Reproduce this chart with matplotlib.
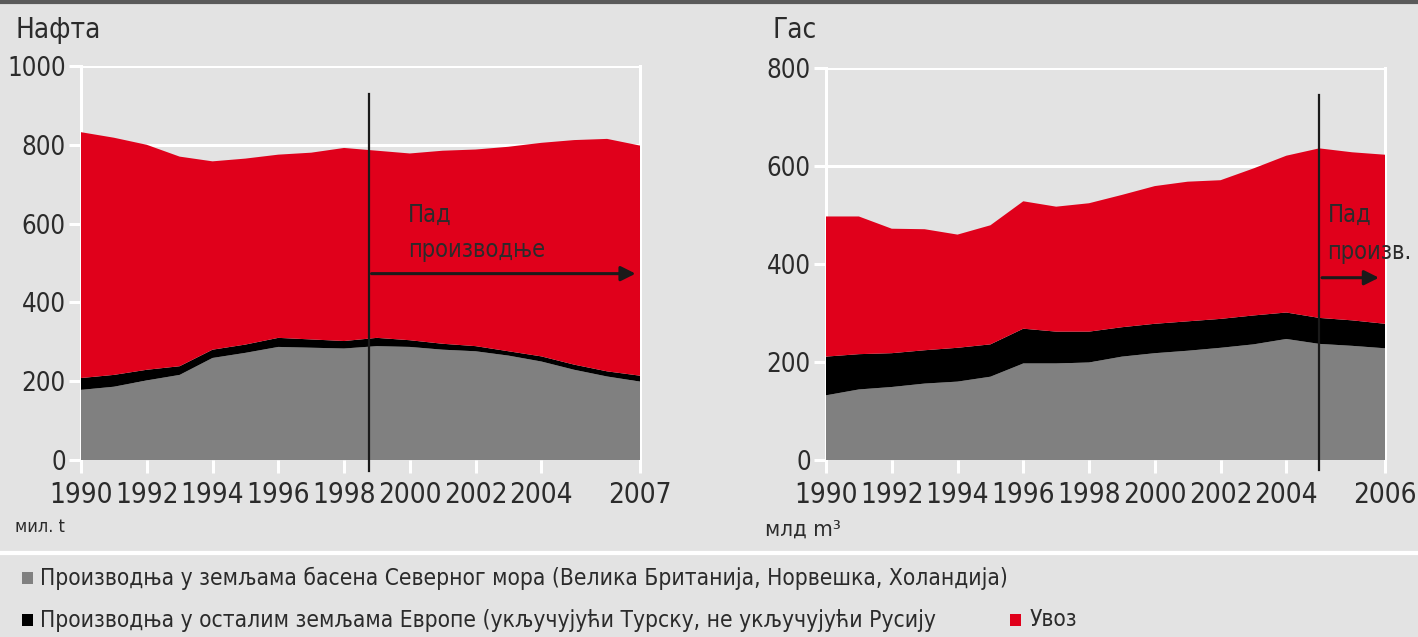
import matplotlib
matplotlib.use("Agg")
import matplotlib.pyplot as plt
from matplotlib.patches import Rectangle
from matplotlib.lines import Line2D
import numpy as np

plt.rcParams['font.family'] = ['DejaVu Sans']
plt.rcParams['font.stretch'] = 'condensed'

# ---- data ----
years = list(range(1990, 2008))

oil_north_sea = [178, 186, 202, 216, 259, 272, 287, 285, 283, 289, 287, 280, 276, 265, 250, 229, 212, 199]
oil_other     = [30, 30, 27, 22, 21, 21, 23, 21, 19, 21, 17, 15, 13, 11, 13, 13, 13, 15]
oil_import    = [624, 602, 571, 532, 478, 472, 465, 474, 490, 475, 474, 490, 499, 519, 542, 570, 590, 584]

gas_north_sea = [132, 144, 149, 156, 160, 170, 197, 197, 199, 211, 218, 223, 229, 236, 247, 237, 233, 228]
gas_other     = [79, 72, 69, 68, 69, 66, 71, 65, 63, 60, 60, 60, 59, 59, 54, 53, 52, 50]
gas_import    = [286, 281, 254, 247, 231, 243, 260, 255, 262, 270, 281, 285, 283, 300, 320, 346, 343, 345]

oil_xticks = [1990, 1992, 1994, 1996, 1998, 2000, 2002, 2004, 2007]
oil_xlabels = ['1990', '1992', '1994', '1996', '1998', '2000', '2002', '2004', '2007']
gas_xticks = [1990, 1992, 1994, 1996, 1998, 2000, 2002, 2004, 2007]
gas_xlabels = ['1990', '1992', '1994', '1996', '1998', '2000', '2002', '2004', '2006']

oil_yticks = [0, 200, 400, 600, 800, 1000]
gas_yticks = [0, 200, 400, 600, 800]

oil_decline = 1998.75
gas_decline = 2005

legend_labels = ['Производња у земљама басена Северног мора (Велика Британија, Норвешка, Холандија)',
                 'Производња у осталим земљама Европе (укључујући Турску, не укључујући Русију',
                 'Увоз']

BG = '#e3e3e3'
GRAY = '#808080'
BLACK = '#000000'
RED = '#e0001b'
TXT = '#2b2b2b'

fig = plt.figure(figsize=(14.18, 6.37), dpi=100, facecolor=BG)


def panel(rect, north, other, imp, ymax, yticks, xticks, xlabels):
    ax = fig.add_axes(rect)
    ax.set_facecolor(BG)
    ax.stackplot(years, north, other, imp, colors=[GRAY, BLACK, RED], linewidth=0, zorder=2)
    ax.set_xlim(1990, 2007)
    ax.set_ylim(0, ymax)
    ax.set_yticks(yticks)
    ax.set_xticks(xticks)
    ax.set_xticklabels(xlabels)
    ax.grid(axis='y', color='white', linewidth=2.2, zorder=1)
    for s in ['top', 'bottom']:
        ax.spines[s].set_visible(False)
    for s in ['left', 'right']:
        ax.spines[s].set_color('white')
        ax.spines[s].set_linewidth(2.2)
        ax.spines[s].set_zorder(1)
    ax.tick_params(axis='both', colors='white', width=2.2, length=9, labelcolor=TXT, pad=2)
    ax.tick_params(axis='y', labelsize=18.5)
    ax.tick_params(axis='x', labelsize=20, pad=6)
    return ax


ax1 = panel([81/1418, 1 - 460/637, 559/1418, 394/637],
            oil_north_sea, oil_other, oil_import, 1000, oil_yticks, oil_xticks, oil_xlabels)
ax2 = panel([826/1418, 1 - 460/637, 559/1418, 392/637],
            gas_north_sea, gas_other, gas_import, 800, gas_yticks, gas_xticks, gas_xlabels)

# decline markers
ax1.plot([oil_decline, oil_decline], [-27, 930], color='#1a1a1a', lw=1.6, clip_on=False, zorder=4)
ax1.annotate('', xy=(2006.95, 473), xytext=(oil_decline, 473),
             arrowprops=dict(arrowstyle='-|>', color='#1a1a1a', lw=2.2, mutation_scale=22), zorder=4)
ax1.text(1999.95, 622, 'Пад', fontsize=17, color=TXT, va='center', ha='left')
ax1.text(1999.95, 533, 'производње', fontsize=17, color=TXT, va='center', ha='left')

ax2.plot([gas_decline, gas_decline], [-20, 745], color='#1a1a1a', lw=1.6, clip_on=False, zorder=4)
ax2.annotate('', xy=(2006.9, 372), xytext=(gas_decline, 372),
             arrowprops=dict(arrowstyle='-|>', color='#1a1a1a', lw=2.2, mutation_scale=22), zorder=4)
ax2.text(2005.25, 500, 'Пад', fontsize=17, color=TXT, va='center', ha='left')
ax2.text(2005.25, 424, 'произв.', fontsize=17, color=TXT, va='center', ha='left')

# titles and units
fig.text(15/1418, 1 - 30/637, 'Нафта', fontsize=20, color=TXT, va='center', ha='left')
fig.text(772/1418, 1 - 30/637, 'Гас', fontsize=20, color=TXT, va='center', ha='left')
fig.text(15/1418, 1 - 527/637, 'мил. t', fontsize=13, color=TXT, va='center', ha='left')
fig.text(765/1418, 1 - 530/637, 'млд m³', fontsize=16, color=TXT, va='center', ha='left')

# frame lines
fig.add_artist(Line2D([0, 1], [1 - 1.5/637, 1 - 1.5/637], color='#5a5a5a', lw=3))
fig.add_artist(Line2D([0, 1], [1 - 553/637, 1 - 553/637], color='white', lw=3))

# legend
def sq(x, y, c):
    fig.add_artist(Rectangle((x/1418, 1 - (y + 6)/637), 11/1418, 12/637,
                             facecolor=c, edgecolor='none', transform=fig.transFigure))

sq(22, 578, GRAY)
fig.text(40/1418, 1 - 578/637, legend_labels[0], fontsize=16.3, color=TXT, va='center', ha='left')
sq(22, 620, BLACK)
fig.text(40/1418, 1 - 620/637, legend_labels[1], fontsize=16.3, color=TXT, va='center', ha='left')
sq(1010, 620, RED)
fig.text(1030/1418, 1 - 620/637, legend_labels[2], fontsize=16.3, color=TXT, va='center', ha='left')

fig.savefig('out.png', dpi=100, facecolor=BG)
